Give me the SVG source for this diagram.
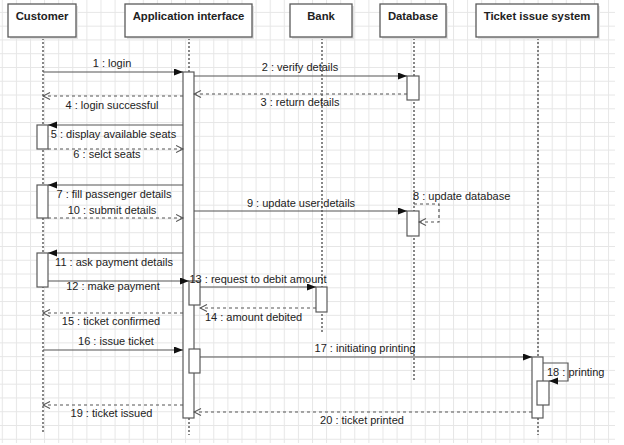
<svg xmlns="http://www.w3.org/2000/svg" width="624" height="445" viewBox="0 0 624 445">
<style>
.box{fill:#fff;stroke:#5a5a5a;stroke-width:1.3}
.shadow{fill:#e2e2e2}
.hdr{font-family:"Liberation Sans",Arial,sans-serif;font-size:11.3px;font-weight:bold;fill:#222;text-anchor:middle}
.life{stroke:#555;stroke-width:1.4;stroke-dasharray:2 2;fill:none}
.act{fill:#fff;stroke:#5a5a5a;stroke-width:1.2}
.msg{stroke:#555;stroke-width:1.2;fill:none}
.sync{marker-end:url(#filled)}
.ret{stroke-dasharray:3 3;marker-end:url(#open)}
.lbl{font-family:"Liberation Sans",Arial,sans-serif;font-size:11px;fill:#222;text-anchor:middle}
.lbls{font-family:"Liberation Sans",Arial,sans-serif;font-size:11px;fill:#222}
</style>
<defs>
<pattern id="grid" patternUnits="userSpaceOnUse" x="1.8" y="-1.87" width="14.1" height="13.77">
<path d="M0,0.5 H14.1 M0.5,0 V13.77" stroke="#e6e6e6" stroke-width="1" fill="none"/>
</pattern>
<marker id="filled" markerUnits="userSpaceOnUse" markerWidth="10" markerHeight="8" refX="9" refY="3.5" orient="auto">
<path d="M0,0 L9,3.5 L0,7 Z" fill="#111"/>
</marker>
<marker id="open" markerUnits="userSpaceOnUse" markerWidth="9" markerHeight="9" refX="7.5" refY="4" orient="auto">
<path d="M0.5,0.5 L7.5,4 L0.5,7.5" fill="none" stroke="#555" stroke-width="1.1"/>
</marker>
</defs>
<rect x="0" y="0" width="624" height="445" fill="#fff"/>
<rect x="0" y="0" width="615" height="443" fill="url(#grid)"/>

<g id="customer">
<line class="life" x1="43" y1="38" x2="43" y2="432"/>
<rect class="shadow" x="10" y="6" width="68" height="33"/>
<rect class="box" x="8" y="4" width="68" height="33"/>
<text class="hdr" x="42" y="19.5">Customer</text>
<rect class="act" x="37" y="125" width="11" height="24"/>
<rect class="act" x="37" y="185" width="11" height="33"/>
<rect class="act" x="37" y="253" width="11" height="34"/>
</g>

<g id="application-interface">
<line class="life" x1="189" y1="38" x2="189" y2="435"/>
<rect class="shadow" x="127" y="6" width="127" height="33"/>
<rect class="box" x="125" y="4" width="127" height="33"/>
<text class="hdr" x="188.5" y="19.5">Application interface</text>
<rect class="act" x="183" y="72" width="11" height="346"/>
<rect class="act" x="189" y="281" width="11" height="24"/>
<rect class="act" x="189" y="349" width="11" height="24"/>
</g>

<g id="bank">
<line class="life" x1="322" y1="38" x2="322" y2="332"/>
<rect class="shadow" x="292" y="6" width="62" height="33"/>
<rect class="box" x="290" y="4" width="62" height="33"/>
<text class="hdr" x="321" y="19.5">Bank</text>
<rect class="act" x="316" y="287" width="11" height="25"/>
</g>

<g id="database">
<line class="life" x1="414" y1="38" x2="414" y2="382"/>
<rect class="shadow" x="382" y="6" width="66" height="33"/>
<rect class="box" x="380" y="4" width="66" height="33"/>
<text class="hdr" x="413" y="19.5">Database</text>
<rect class="act" x="407" y="76" width="12" height="24"/>
<rect class="act" x="407" y="211" width="12" height="25"/>
</g>

<g id="ticket-issue-system">
<line class="life" x1="538" y1="38" x2="538" y2="435"/>
<rect class="shadow" x="478" y="6" width="122" height="33"/>
<rect class="box" x="476" y="4" width="122" height="33"/>
<text class="hdr" x="537" y="19.5">Ticket issue system</text>
<rect class="act" x="532" y="357" width="11" height="61"/>
<rect class="act" x="537" y="381" width="12" height="24"/>
</g>

<g id="connectors">
<line class="msg sync" x1="43" y1="72" x2="183" y2="72"/>
<text class="lbl" x="112" y="67">1 : login</text>
<line class="msg sync" x1="194" y1="76" x2="407" y2="76"/>
<text class="lbl" x="300" y="71">2 : verify details</text>
<line class="msg ret" x1="407" y1="94" x2="194" y2="94"/>
<text class="lbl" x="300" y="106">3 : return details</text>
<line class="msg ret" x1="183" y1="96" x2="43" y2="96"/>
<text class="lbl" x="112" y="109">4 : login successful</text>
<line class="msg sync" x1="183" y1="125" x2="48" y2="125"/>
<text class="lbl" x="113.5" y="137.5">5 : display available seats</text>
<line class="msg ret" x1="48" y1="149" x2="183" y2="149"/>
<text class="lbl" x="107" y="158">6 : selct seats</text>
<line class="msg sync" x1="183" y1="185" x2="48" y2="185"/>
<text class="lbl" x="114" y="198">7 : fill passenger details</text>
<line class="msg sync" x1="194" y1="211" x2="407" y2="211"/>
<text class="lbl" x="301" y="206.5">9 : update user;details</text>
<path class="msg ret" d="M414,204 H439 V222 H419"/>
<text class="lbls" x="413" y="200">8 : update database</text>
<line class="msg ret" x1="48" y1="218" x2="183" y2="218"/>
<text class="lbl" x="112" y="214">10 : submit details</text>
<line class="msg sync" x1="183" y1="253" x2="48" y2="253"/>
<text class="lbl" x="114" y="265.5">11 : ask payment details</text>
<line class="msg sync" x1="48" y1="281" x2="189" y2="281"/>
<text class="lbl" x="113" y="290">12 : make payment</text>
<line class="msg sync" x1="200" y1="287" x2="316" y2="287"/>
<text class="lbl" x="258" y="283">13 : request to debit amount</text>
<line class="msg ret" x1="316" y1="308" x2="200" y2="308"/>
<text class="lbl" x="253.5" y="320.5">14 : amount debited</text>
<line class="msg ret" x1="183" y1="313" x2="43" y2="313"/>
<text class="lbl" x="111" y="325">15 : ticket confirmed</text>
<line class="msg sync" x1="43" y1="350" x2="183" y2="350"/>
<text class="lbl" x="116" y="345">16 : issue ticket</text>
<line class="msg sync" x1="200" y1="357" x2="532" y2="357"/>
<text class="lbl" x="365" y="351.5">17 : initiating printing</text>
<path class="msg sync" d="M543,363 H568 V381 H549"/>
<text class="lbls" x="547" y="375.5">18 : printing</text>
<line class="msg ret" x1="183" y1="405" x2="43" y2="405"/>
<text class="lbl" x="111.5" y="417">19 : ticket issued</text>
<line class="msg ret" x1="532" y1="412" x2="194" y2="412"/>
<text class="lbl" x="362" y="424">20 : ticket printed</text>
</g>
</svg>
